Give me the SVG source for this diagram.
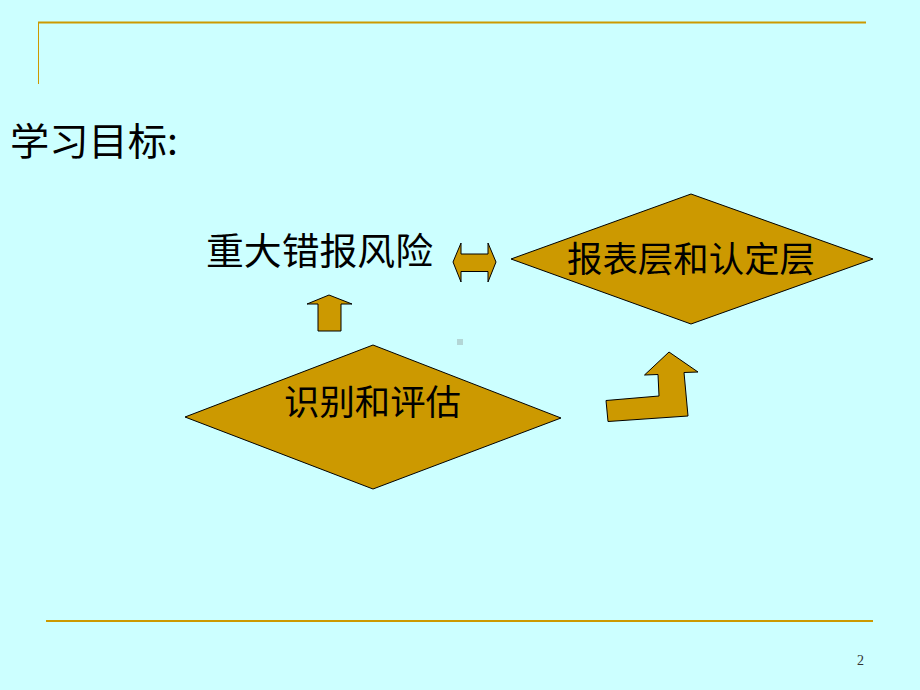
<svg xmlns="http://www.w3.org/2000/svg" width="920" height="690" viewBox="0 0 920 690">
<style>
.bg{fill:#CCFFFF}
.rule{stroke:#CC9900;fill:none}
.shape{fill:#CC9900;stroke:#000;stroke-width:1;stroke-linejoin:miter}
.t{font-family:"Noto Sans CJK SC","Noto Sans",sans-serif;fill:#000;font-weight:400}
</style>
<rect class="bg" x="0" y="0" width="920" height="690"/>
<g id="frame">
<line class="rule" x1="38" y1="22.5" x2="866" y2="22.5" stroke-width="2"/>
<line class="rule" x1="38.5" y1="22" x2="38.5" y2="84" stroke-width="1"/>
<line class="rule" x1="46" y1="621" x2="873" y2="621" stroke-width="2"/>
<rect x="457" y="339" width="6" height="6" fill="#B3D6D6"/>
</g>
<g id="title">
<text class="t" x="10" y="155" font-size="38" textLength="168" lengthAdjust="spacingAndGlyphs">学习目标:</text>
</g>
<g id="node-risk">
<text class="t" x="206" y="265" font-size="37" textLength="227" lengthAdjust="spacingAndGlyphs">重大错报风险</text>
</g>
<g id="node-level">
<polygon class="shape" points="511,259 691,194 873,259 691,324"/>
<text class="t" x="567" y="272" font-size="35" textLength="248" lengthAdjust="spacingAndGlyphs">报表层和认定层</text>
</g>
<g id="node-identify">
<polygon class="shape" points="185,417 373,345 561,418 373,489"/>
<text class="t" x="284" y="415" font-size="35" textLength="177" lengthAdjust="spacingAndGlyphs">识别和评估</text>
</g>
<g id="connectors">
<polygon class="shape" points="453,262 461,243 461,254 488,254 488,243 496,262 488,282 488,271.5 461,271.5 461,282"/>
<polygon class="shape" points="329,295 352,304 341,304 341,331 318,331 318,304 307,304"/>
<polygon class="shape" points="669,352 698,372 684,372.5 688,416 608,421.5 606,400.5 659,396 658,374.5 644.5,375"/>
</g>
<g id="page">
<text x="857" y="665" font-family="Liberation Serif,serif" font-size="14" fill="#333">2</text>
</g>
</svg>
